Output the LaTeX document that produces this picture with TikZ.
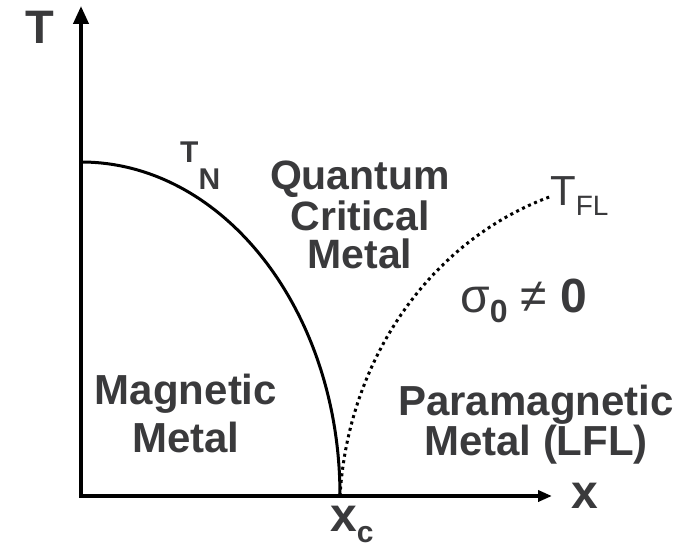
\documentclass[tikz,border=0pt]{standalone}
\usepackage{fontspec}
\setmainfont{Liberation Sans}
\usepackage{xcolor}
\usepackage{tikz}
\usetikzlibrary{arrows.meta}
\definecolor{ink}{HTML}{3A3A3C}

\begin{document}
\begin{tikzpicture}[x=1pt,y=1pt,
    region/.style={align=center,text=ink,inner sep=0pt,anchor=base,font=\bfseries\fontsize{41}{38}\selectfont},
    lbl/.style={text=ink,inner sep=0pt,anchor=base west}]
  \useasboundingbox (-81,-51) rectangle (612,496);
  \coordinate (o) at (0,0);
  \coordinate (xc) at (259,0);
  \coordinate (tn) at (0,334);
  \coordinate (tfl) at (471,300);
  % axes
  \draw[line width=4pt,arrows={Triangle[length=18pt,width=15pt]-Triangle[length=14pt,width=11pt]}]
    (0,490) |- (471,0);
  % phase lines
  \draw[line width=3pt] (tn) arc[start angle=90,end angle=0,x radius=259,y radius=334];
  \draw[line width=3pt,dash pattern=on 3pt off 3.6pt] (xc) .. controls (267,136) and (349,256) .. (tfl);
  % axis labels
  \node[lbl,anchor=base,font=\bfseries\fontsize{47}{47}\selectfont] (tlab) at (-41.5,452) {T};
  \node[lbl,anchor=base,font=\bfseries\fontsize{48}{48}\selectfont] (xlab) at (504,-12) {x};
  \node[lbl,font=\bfseries\fontsize{48}{48}\selectfont] (xclab) at (249,-35) {x\raisebox{-11pt}{\fontsize{30}{30}\selectfont c}};
  % line labels
  \node[lbl,font=\bfseries\fontsize{30}{30}\selectfont] (tnlab) at (99,334) {T\raisebox{-27pt}{N}};
  \node[lbl,font=\fontsize{42}{42}\selectfont] (tfllab) at (469,291) {T\raisebox{-10pt}{\fontsize{28}{28}\selectfont FL}};
  \node[lbl,font=\fontsize{48}{48}\selectfont] (sigma) at (379,184) {σ\raisebox{-10pt}{\bfseries\fontsize{32}{32}\selectfont 0} ≠ \textbf{0}};
  % regions (base = last line)
  \node[region] (qcm) at (279,228) {Quantum\\[3pt]Critical\\Metal};
  \node[region,font=\bfseries\fontsize{42}{48}\selectfont] (mag) at (105,44) {Magnetic\\Metal};
  \node[region,font=\bfseries\fontsize{42}{40}\selectfont] (para) at (455,41) {Paramagnetic\\Metal (LFL)};
\end{tikzpicture}
\end{document}
